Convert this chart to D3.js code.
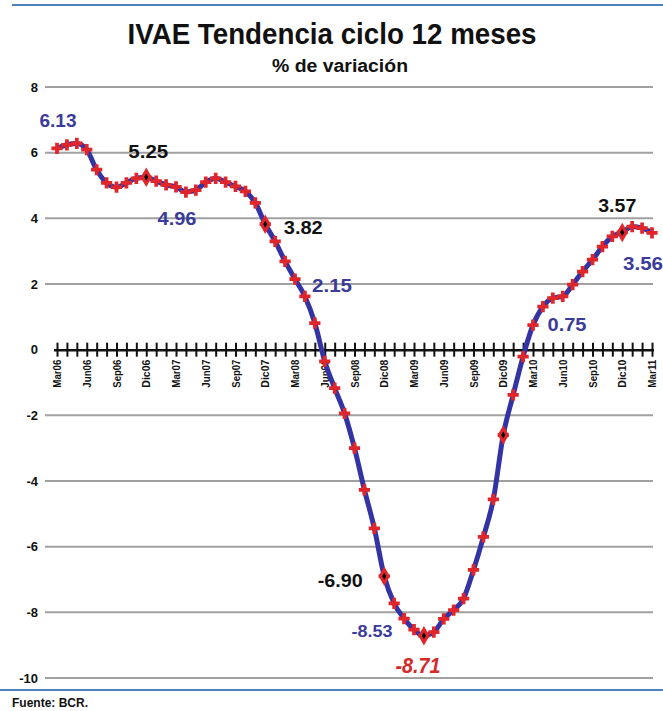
<!DOCTYPE html>
<html>
<head>
<meta charset="utf-8">
<script src="https://cdn.jsdelivr.net/npm/d3@7"></script>
<style>
  body { margin: 0; background: #fff; }
  text { font-family: "Liberation Sans", Arial, sans-serif; font-weight: bold; }
</style>
</head>
<body>
<div id="grafico"></div>
<script>
// datos: IVAE tendencia ciclo, variación % 12 meses, mar-06 a mar-11
const months = ["Ene","Feb","Mar","Abr","May","Jun","Jul","Ago","Sep","Oct","Nov","Dic"];
const years  = ["06","07","08","09","10","11"];

const values = [
  6.13, 6.24, 6.28, 6.09, 5.48, 5.08, 4.95, 5.08, 5.22, 5.25,
  5.13, 5.02, 4.96, 4.80, 4.86, 5.10, 5.22, 5.10, 4.97, 4.82,
  4.47, 3.82, 3.30, 2.69, 2.15, 1.62, 0.81, -0.36, -1.17, -1.94,
  -3.00, -4.27, -5.44, -6.90, -7.73, -8.19, -8.53, -8.71, -8.60, -8.20,
  -7.93, -7.58, -6.71, -5.70, -4.56, -2.60, -1.38, -0.21, 0.75, 1.31,
  1.57, 1.62, 1.98, 2.38, 2.74, 3.14, 3.45, 3.57, 3.75, 3.70,
  3.56
];

// meses destacados (diciembres y mínimo)
const highlighted = [9, 21, 33, 37, 45, 57];

const yTicks = [8, 6, 4, 2, 0, -2, -4, -6, -8, -10];

// etiquetas de datos
const labelIndex = [0, 9, 12, 21, 24, 33, 36, 37, 48, 57, 60];
const labelText  = ["6.13", "5.25", "4.96", "3.82", "2.15", "-6.90", "-8.53", "-8.71", "0.75", "3.57", "3.56"];

// categorias mensuales desde Mar06
const categories = [];
for (let i = 0; i < values.length; i++) {
  const m = (2 + i) % 12;
  const y = Math.floor((2 + i) / 12);
  categories.push(months[m] + years[y]);
}
const tickLabels = categories.filter((d, i) => i % 3 === 0);

// estilos de etiquetas: [dx, dy, color, tamaño, italica, ancho]
const BLUE = "#3b3b9a", BLACK = "#111", RED = "#d42a2a";
const labelStyle = [
  [1, -21, BLUE, 19, false, 37],
  [2, -19, BLACK, 19, false, 40],
  [1, 38, BLUE, 19, false, 39],
  [38, 10, BLACK, 19, false, 39],
  [37, 13, BLUE, 19, false, 40],
  [-44, 11, BLACK, 19, false, 45],
  [-42, 7, BLUE, 17, false, 41],
  [-6, 37, RED, 22, true, 45],
  [34, 6, BLUE, 19, false, 39],
  [-5, -20, BLACK, 19, false, 38],
  [-9, 37, BLUE, 19, false, 40]
];

const W = 663, H = 711;

const svg = d3.select("#grafico")
              .append("svg")
              .attr("width", W)
              .attr("height", H);

// lineas azules superior e inferior
svg.append("line").attr("x1", 12).attr("x2", 663).attr("y1", 5).attr("y2", 5)
   .attr("stroke", "#4f81bd").attr("stroke-width", 2);
svg.append("line").attr("x1", 0).attr("x2", 663).attr("y1", 690).attr("y2", 690)
   .attr("stroke", "#4f81bd").attr("stroke-width", 2);

svg.append("text")
   .attr("x", 332).attr("y", 44)
   .attr("text-anchor", "middle")
   .attr("font-size", 30)
   .attr("textLength", 409)
   .attr("lengthAdjust", "spacingAndGlyphs")
   .attr("fill", "#111")
   .text("IVAE Tendencia ciclo 12 meses");

svg.append("text")
   .attr("x", 340).attr("y", 72)
   .attr("text-anchor", "middle")
   .attr("font-size", 18)
   .attr("textLength", 136)
   .attr("lengthAdjust", "spacingAndGlyphs")
   .attr("fill", "#111")
   .text("% de variación");

svg.append("text")
   .attr("x", 12).attr("y", 707)
   .attr("font-size", 12)
   .attr("textLength", 76)
   .attr("lengthAdjust", "spacingAndGlyphs")
   .attr("fill", "#111")
   .text("Fuente: BCR.");

const xScale = d3.scalePoint()
                 .domain(categories)
                 .range([57, 652]);

const yScale = d3.scaleLinear()
                 .domain([-10, 8])
                 .range([678, 87]);

// cuadricula
svg.append("g")
   .selectAll("line")
   .data(yTicks.filter(d => d !== 0))
   .join("line")
   .attr("x1", 45)
   .attr("x2", 653)
   .attr("y1", d => yScale(d))
   .attr("y2", d => yScale(d))
   .attr("stroke", "#a0a0a0")
   .attr("stroke-width", 2);

const yAxisLeft = d3.axisLeft(yScale)
                    .tickValues(yTicks)
                    .tickFormat(d => String(d))
                    .tickSize(0)
                    .tickPadding(0);
svg.append("g")
   .attr("transform", "translate(38, 0)")
   .call(yAxisLeft)
   .call(g => g.select(".domain").remove())
   .selectAll("text")
   .attr("font-size", 13)
   .attr("fill", "#111")
   .style("font-family", "'Liberation Sans', Arial, sans-serif")
   .style("font-weight", "bold");

// eje x en cero con marcas cruzadas
const xAxis = d3.axisBottom(xScale)
                .tickSizeInner(8)
                .tickSizeOuter(0)
                .tickFormat(d => tickLabels.includes(d) ? d : "");

const gx = svg.append("g")
   .attr("transform", `translate(0, ${yScale(0)})`)
   .call(xAxis);

gx.select(".domain").attr("stroke", "#111").attr("stroke-width", 2.5)
  .attr("d", `M54,0.5H654`);
gx.selectAll(".tick line")
  .attr("y1", -7)
  .attr("y2", 7)
  .attr("stroke", "#111")
  .attr("stroke-width", 2);
gx.selectAll(".tick text")
  .attr("transform", "rotate(-90)")
  .attr("x", -10)
  .attr("y", 0)
  .attr("dy", "0.35em")
  .attr("text-anchor", "end")
  .attr("font-size", 10)
  .attr("textLength", 28)
  .attr("lengthAdjust", "spacingAndGlyphs")
  .attr("fill", "#111")
  .style("font-family", "'Liberation Sans', Arial, sans-serif")
  .style("font-weight", "bold");

// linea
const line = d3.line()
               .x((d, i) => xScale(categories[i]))
               .y(d => yScale(d))
               .curve(d3.curveMonotoneX);

svg.append("path")
   .datum(values)
   .attr("d", line)
   .attr("fill", "none")
   .attr("stroke", "#3333a4")
   .attr("stroke-width", 5);

// marcadores rojos
const star = d3.symbol().type(d3.symbolCross).size(70);
svg.append("g")
   .selectAll("path")
   .data(values)
   .join("path")
   .attr("d", star)
   .attr("transform", (d, i) => `translate(${xScale(categories[i])}, ${yScale(d)})`)
   .attr("fill", "#e0262b");

const diamond = d3.symbol().type(d3.symbolDiamond).size(110);
const dot = d3.symbol().type(d3.symbolDiamond).size(14);
const hl = svg.append("g");
hl.selectAll("path.big")
  .data(highlighted)
  .join("path")
  .attr("class", "big")
  .attr("d", diamond)
  .attr("transform", i => `translate(${xScale(categories[i])}, ${yScale(values[i])})`)
  .attr("fill", "#e0262b");
hl.selectAll("path.dot")
  .data(highlighted)
  .join("path")
  .attr("class", "dot")
  .attr("d", dot)
  .attr("transform", i => `translate(${xScale(categories[i])}, ${yScale(values[i])})`)
  .attr("fill", "#000");

// etiquetas de datos
svg.append("g")
   .selectAll("text")
   .data(labelIndex)
   .join("text")
   .attr("x", (d, k) => xScale(categories[d]) + labelStyle[k][0])
   .attr("y", (d, k) => yScale(values[d]) + labelStyle[k][1])
   .attr("text-anchor", "middle")
   .attr("fill", (d, k) => labelStyle[k][2])
   .attr("font-size", (d, k) => labelStyle[k][3])
   .attr("font-style", (d, k) => labelStyle[k][4] ? "italic" : "normal")
   .attr("textLength", (d, k) => labelStyle[k][5])
   .attr("lengthAdjust", "spacingAndGlyphs")
   .text((d, k) => labelText[k]);
</script>
</body>
</html>
